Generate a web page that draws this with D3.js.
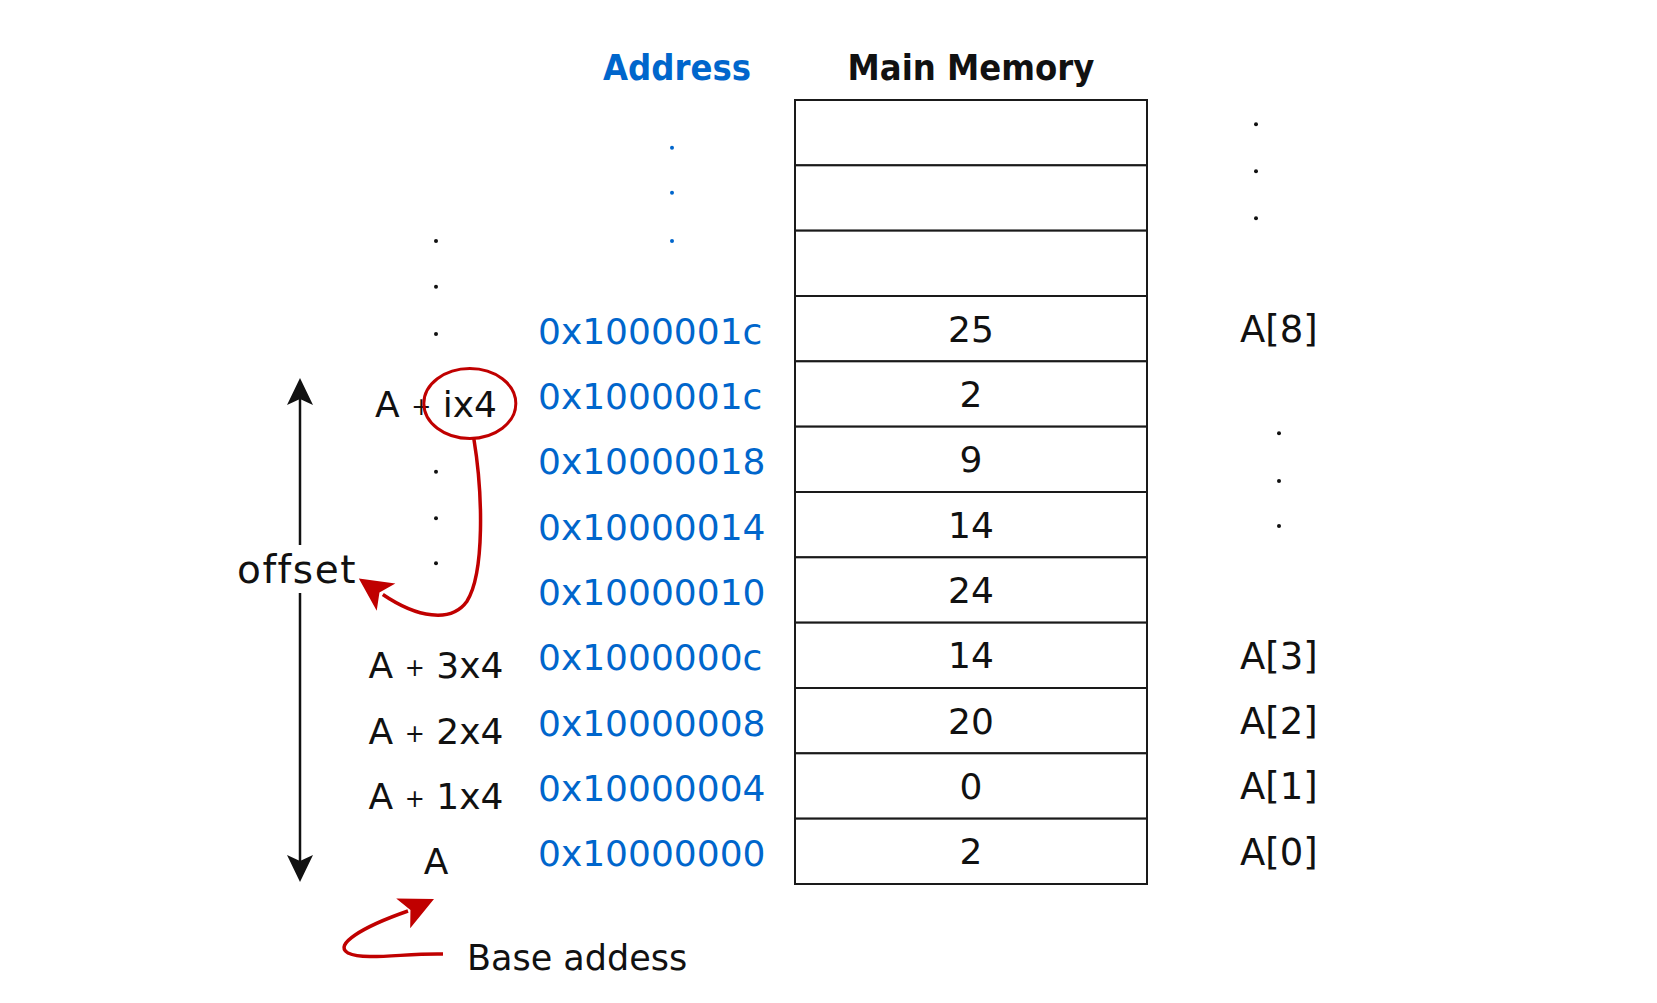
<!DOCTYPE html>
<html>
<head>
<meta charset="utf-8">
<script src="https://cdn.jsdelivr.net/npm/d3@7"></script>
<style>
  html, body { margin: 0; padding: 0; background: #fff; }
  svg { display: block; }
</style>
</head>
<body>
<div id="chart"></div>
<script>
/*******************************************************************************
 * Array in main memory: addresses, stored values, element labels
 */

var addresses = [ "0x1000001c", "0x1000001c", "0x10000018", "0x10000014",
                  "0x10000010", "0x1000000c", "0x10000008", "0x10000004", "0x10000000" ];
var cellValues = [ 25, 2, 9, 14, 24, 14, 20, 0, 2 ];
var emptyRowsAbove = 3;

var elementRows = [ 3, 8, 9, 10, 11 ];
var elementLabels = [ "A[8]", "A[3]", "A[2]", "A[1]", "A[0]" ];

var offsetRows = [ 4, 8, 9, 10, 11 ];
var offsetLabels = [ "A + ix4", "A + 3x4", "A + 2x4", "A + 1x4", "A" ];

// "..." continuation dots, in row units
var addressDots = [ 0.73, 1.42, 2.16 ];
var offsetDotsTop = [ 2.16, 2.86, 3.58 ];
var offsetDotsMid = [ 5.69, 6.40, 7.09 ];
var elementDotsTop = [ 0.37, 1.09, 1.81 ];
var elementDotsMid = [ 5.10, 5.83, 6.52 ];

(function(){
  'use strict';

  var W = 1657, H = 1003;
  var BLUE = "#0066cc", RED = "#c00000", INK = "#111";
  var FONT = "'DejaVu Sans', 'Noto Sans', sans-serif";
  var rowCount = emptyRowsAbove + cellValues.length;

  var svg = d3.select("#chart").append("svg")
    .attr("width", W).attr("height", H);
  svg.append("rect").attr("width", W).attr("height", H).attr("fill", "#fff");

  var y = d3.scaleLinear().domain([ 0, rowCount ]).range([ 100, 884 ]);
  var mid = function(r) { return (y(r) + y(r + 1)) / 2; };

  var col = { offset: 436, addr: 538, addrDots: 672, boxL: 795, boxR: 1147,
              elem: 1240, elemDotsTop: 1256, elemDotsMid: 1279 };
  var boxMid = (col.boxL + col.boxR) / 2;

  // headers
  svg.append("text")
    .attr("x", 677).attr("y", 80).attr("text-anchor", "middle")
    .attr("font-family", "'DejaVu Sans Condensed', 'DejaVu Sans', sans-serif")
    .attr("font-stretch", "condensed")
    .attr("font-weight", "bold").attr("font-size", 36)
    .attr("fill", BLUE).text("Address");
  svg.append("text")
    .attr("x", boxMid).attr("y", 80).attr("text-anchor", "middle")
    .attr("font-family", "'DejaVu Sans Condensed', 'DejaVu Sans', sans-serif")
    .attr("font-stretch", "condensed")
    .attr("font-weight", "bold").attr("font-size", 36)
    .attr("fill", INK).text("Main Memory");

  // memory cells
  var rows = d3.range(rowCount);
  svg.append("g").selectAll("rect").data(rows).join("rect")
    .attr("x", col.boxL).attr("y", function(r) { return y(r); })
    .attr("width", col.boxR - col.boxL)
    .attr("height", function(r) { return y(r + 1) - y(r); })
    .attr("fill", "#fff").attr("stroke", "#1a1a1a").attr("stroke-width", 2);

  svg.append("g").selectAll("text").data(cellValues).join("text")
    .attr("x", boxMid)
    .attr("y", function(d, i) { return mid(i + emptyRowsAbove); })
    .attr("dy", "0.36em").attr("text-anchor", "middle")
    .attr("font-family", FONT).attr("font-size", 36).attr("fill", INK)
    .text(function(d) { return d; });

  // addresses
  svg.append("g").selectAll("text").data(addresses).join("text")
    .attr("x", col.addr)
    .attr("y", function(d, i) { return mid(i + emptyRowsAbove) + 2; })
    .attr("dy", "0.36em")
    .attr("font-family", FONT).attr("font-size", 36).attr("fill", BLUE)
    .text(function(d) { return d; });

  // element labels on the right
  svg.append("g").selectAll("text").data(elementLabels).join("text")
    .attr("x", col.elem)
    .attr("y", function(d, i) { return mid(elementRows[i]); })
    .attr("dy", "0.36em")
    .attr("font-family", FONT).attr("font-size", 37).attr("fill", INK)
    .text(function(d) { return d; });

  // offset expressions on the left (small "+" like the hand-drawn font)
  var offsetText = svg.append("g").selectAll("text").data(offsetLabels).join("text")
    .attr("x", col.offset)
    .attr("y", function(d, i) { return mid(offsetRows[i]) + 10; })
    .attr("dy", "0.36em").attr("text-anchor", "middle")
    .attr("font-family", FONT).attr("font-size", 36).attr("fill", INK);
  offsetText.each(function(d) {
    var t = d3.select(this), parts = d.split(" + ");
    if (parts.length < 2) { t.text(d); return; }
    t.append("tspan").text(parts[0] + " ");
    t.append("tspan").attr("font-size", 24).attr("baseline-shift", "0.1em").text("+");
    t.append("tspan").text(" ");
    t.append("tspan").attr("class", "term").text(parts[1]);
  });

  // dots
  var dots = function(list, x, color) {
    svg.append("g").selectAll("circle").data(list).join("circle")
      .attr("cx", x).attr("cy", function(d) { return y(d); })
      .attr("r", 2).attr("fill", color);
  };
  dots(addressDots, col.addrDots, BLUE);
  dots(offsetDotsTop, col.offset, INK);
  dots(offsetDotsMid, col.offset, INK);
  dots(elementDotsTop, col.elemDotsTop, INK);
  dots(elementDotsMid, col.elemDotsMid, INK);

  // arrowhead helper: tip point, direction vector, length, half width, notch depth
  var arrowHead = function(tip, dir, len, half, notch, color) {
    var n = Math.sqrt(dir[0] * dir[0] + dir[1] * dir[1]);
    var ux = dir[0] / n, uy = dir[1] / n, px = -uy, py = ux;
    var bx = tip[0] - ux * len, by = tip[1] - uy * len;
    var p = d3.path();
    p.moveTo(tip[0], tip[1]);
    p.lineTo(bx + px * half, by + py * half);
    p.lineTo(tip[0] - ux * (len - notch), tip[1] - uy * (len - notch));
    p.lineTo(bx - px * half, by - py * half);
    p.closePath();
    svg.append("path").attr("d", p.toString()).attr("fill", color);
  };

  // offset span arrow
  var spanX = 300, spanTop = 378, spanBottom = 882;
  svg.append("line").attr("x1", spanX).attr("x2", spanX)
    .attr("y1", spanTop + 20).attr("y2", 545)
    .attr("stroke", INK).attr("stroke-width", 2.5);
  svg.append("line").attr("x1", spanX).attr("x2", spanX)
    .attr("y1", 593).attr("y2", spanBottom - 20)
    .attr("stroke", INK).attr("stroke-width", 2.5);
  arrowHead([ spanX, spanTop ], [ 0, -1 ], 27, 13, 6, INK);
  arrowHead([ spanX, spanBottom ], [ 0, 1 ], 27, 13, 6, INK);

  svg.append("text").attr("x", 297).attr("y", 583)
    .attr("text-anchor", "middle").attr("letter-spacing", 1.5)
    .attr("font-family", FONT).attr("font-size", 39).attr("fill", INK)
    .text("offset");

  // circle around "ix4"
  var ixBox = offsetText.filter(function(d, i) { return i === 0; })
    .select("tspan.term").node().getBBox();
  var ex = ixBox.x + ixBox.width / 2, ey = ixBox.y + ixBox.height / 2 - 1;
  svg.append("ellipse").attr("cx", ex).attr("cy", ey)
    .attr("rx", 46).attr("ry", 35)
    .attr("fill", "none").attr("stroke", RED).attr("stroke-width", 3);

  var p1 = d3.path();
  p1.moveTo(ex + 4, ey + 35);
  p1.bezierCurveTo(ex + 13, ey + 90, ex + 15, ey + 170, ex - 3, ey + 198);
  p1.bezierCurveTo(ex - 19, ey + 220, ex - 53, ey + 214, ex - 87, ey + 191);
  svg.append("path").attr("d", p1.toString())
    .attr("fill", "none").attr("stroke", RED).attr("stroke-width", 3.5);
  arrowHead([ ex - 111, ey + 175 ], [ -27, -18.5 ], 33, 16.5, 8, RED);

  // base address arrow
  var p2 = d3.path();
  p2.moveTo(443, 954);
  p2.bezierCurveTo(405, 953, 365, 961, 348, 953);
  p2.bezierCurveTo(333, 945, 362, 927, 408, 911);
  svg.append("path").attr("d", p2.toString())
    .attr("fill", "none").attr("stroke", RED).attr("stroke-width", 3.5);
  arrowHead([ 434, 899 ], [ 31, -14.5 ], 34, 16.5, 8, RED);

  svg.append("text").attr("x", 467).attr("y", 970)
    .attr("font-family", FONT).attr("font-size", 35).attr("fill", INK)
    .text("Base addess");

}());
</script>
</body>
</html>
